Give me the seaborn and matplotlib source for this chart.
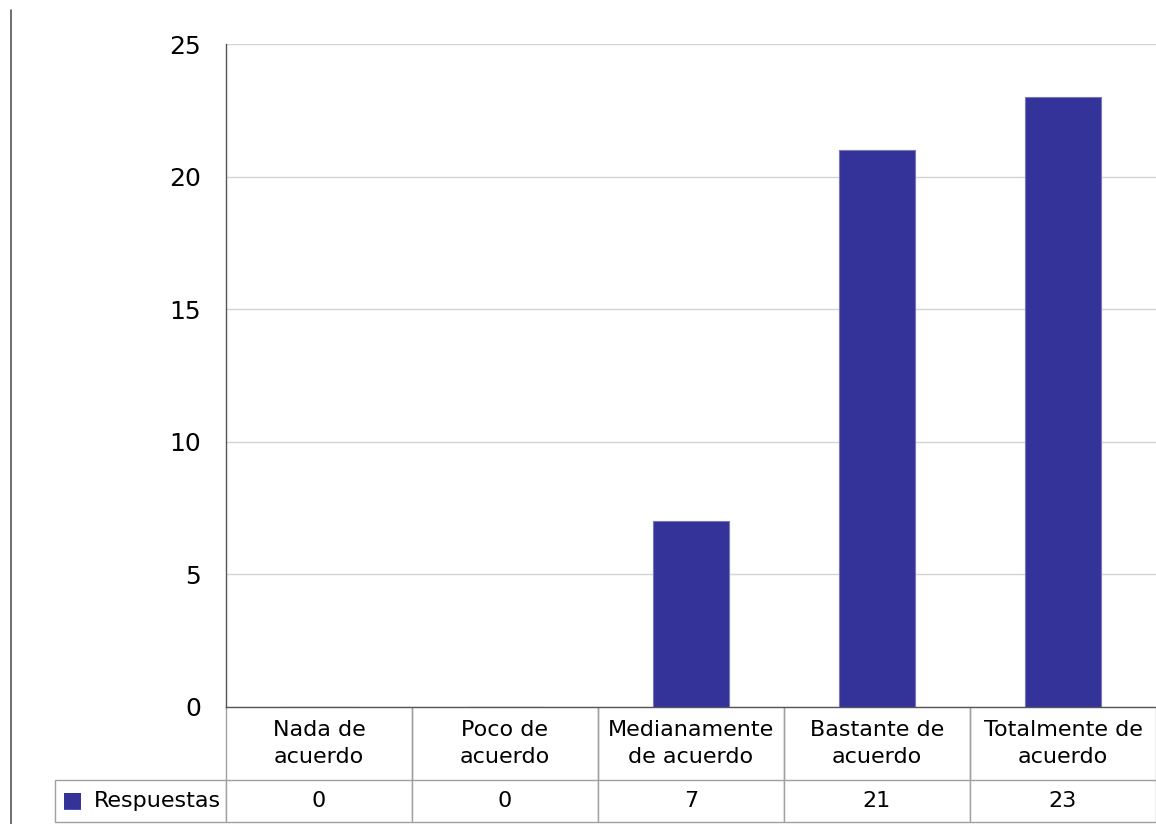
import matplotlib
matplotlib.use("Agg")
import seaborn as sns
from matplotlib import pyplot as plt
from matplotlib.lines import Line2D

# Data
etiquetas = [
    "Nada de\nacuerdo",
    "Poco de\nacuerdo",
    "Medianamente\nde acuerdo",
    "Bastante de\nacuerdo",
    "Totalmente de\nacuerdo",
]
respuestas = [0, 0, 7, 21, 23]
serie = "Respuestas"
yticks = [0, 5, 10, 15, 20, 25]

COLOR = "#333399"
FS = 16

sns.set_style("white")
plt.rcParams["font.family"] = ["DejaVu Sans"]
plt.rcParams["text.color"] = "black"
plt.rcParams["ytick.color"] = "black"

fig = plt.figure(figsize=(11.56, 8.24), dpi=100)
ax = fig.add_axes([226 / 1156, 1 - 707 / 824, 930 / 1156, 663 / 824])

sns.barplot(
    ax=ax,
    x=list(range(len(etiquetas))),
    y=respuestas,
    color=COLOR,
    saturation=1,
    width=0.41,
    edgecolor="#7777bb",
    linewidth=0.8,
    zorder=3,
)

ax.set_xlim(-0.5, len(etiquetas) - 0.5)
ax.set_ylim(0, 25)
ax.set_yticks(yticks)
ax.set_yticklabels([str(t) for t in yticks], fontsize=FS + 2, color="black")
ax.tick_params(axis="y", length=0, pad=18)
ax.set_xticks([])
ax.set_xlabel("")
ax.set_ylabel("")
ax.yaxis.grid(True, color="#d4d4d4", linewidth=1)
ax.set_axisbelow(True)
for side in ("top", "right"):
    ax.spines[side].set_visible(False)
for side in ("left", "bottom"):
    ax.spines[side].set_color("#555555")
    ax.spines[side].set_linewidth(1)

# data table under the plot
label_w = 171 / 930
cell_text = [[""] + etiquetas, [serie] + [str(v) for v in respuestas]]
tabla = ax.table(
    cellText=cell_text,
    colWidths=[label_w] + [1 / len(etiquetas)] * len(etiquetas),
    cellLoc="center",
    bbox=[-label_w, -115 / 663, 1 + label_w, 115 / 663],
)
tabla.auto_set_font_size(False)
tabla.set_fontsize(FS)
for (r, c), cell in tabla.get_celld().items():
    cell.set_edgecolor("#a0a0a0")
    cell.set_linewidth(1)
    cell.set_height(73 if r == 0 else 42)
    cell.get_text().set_color("black")
    cell.get_text().set_linespacing(1.4)
    if r == 0 and c == 0:
        cell.visible_edges = ""
    elif r == 0:
        cell.visible_edges = "LR"
    if r == 1 and c == 0:
        cell.get_text().set_horizontalalignment("right")
        cell.PAD = 0.03
        cell._loc = "right"

# legend key in the table
ax.text(-154 / 930, -93 / 663, "\u25a0", color=COLOR, fontsize=FS,
        ha="center", va="center", transform=ax.transAxes)

# left border line of the original frame
fig.add_artist(Line2D([10.5 / 1156] * 2, [0, 1 - 10 / 824], color="#555555",
                      linewidth=1.2, transform=fig.transFigure))

plt.savefig("out.png", dpi=100)
